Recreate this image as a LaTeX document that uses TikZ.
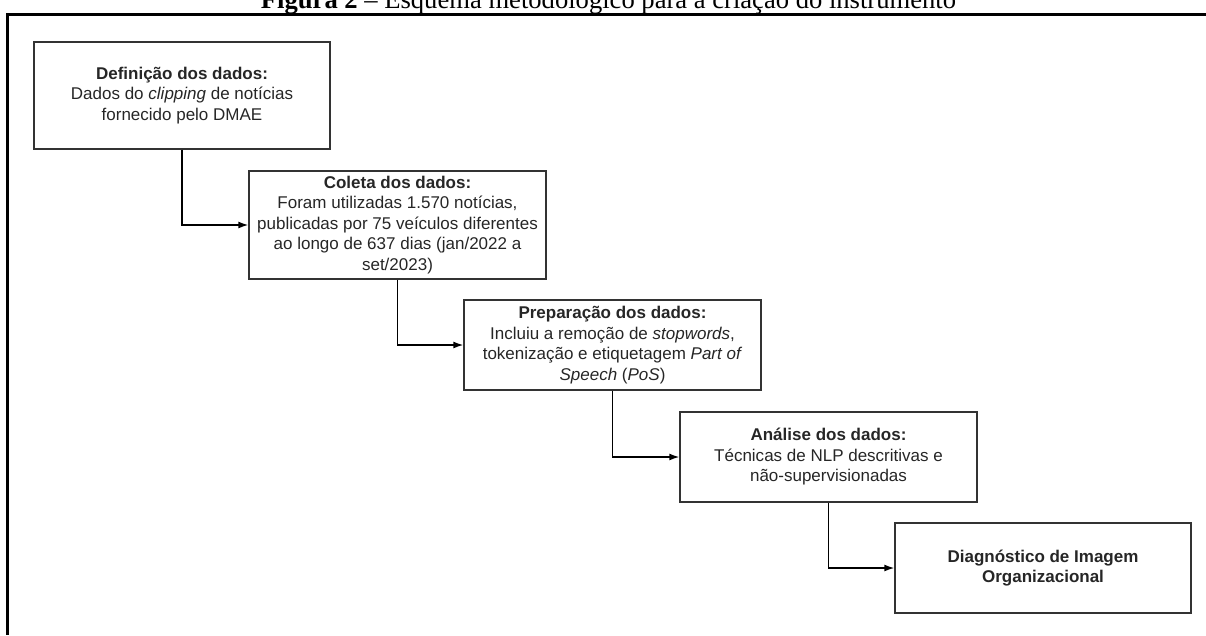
\documentclass[tikz,border=0pt]{standalone}
\usepackage{fontspec}
\setmainfont{Liberation Sans}
\newfontfamily\titleserif{Liberation Serif}
\usetikzlibrary{arrows.meta}
\begin{document}
\begin{tikzpicture}[x=1pt,y=-1pt,
  stepbox/.style={draw=black!80, line width=1.4pt, inner sep=0pt, align=center,
    text=black!85, font=\fontsize{17}{20.5}\selectfont},
  conn/.style={draw=black, line width=1.4pt, -{Latex[length=10pt,width=7pt]}},
  frameline/.style={draw=black, line width=3pt}]
\useasboundingbox (0,0) rectangle (1206,635);
% outer frame (top and left sides visible)
\coordinate (frA) at (1206,14);
\coordinate (frB) at (7,14);
\coordinate (frC) at (7,635);
\draw[frameline] (frA) -- (frB) -- (frC);
% title (cropped at top)
\node[anchor=base, inner sep=0pt, font=\titleserif\fontsize{26.6}{30}\selectfont] (title) at (608.5,8.5)
  {\textbf{Figura 2} – Esquema metodológico para a criação do instrumento};
% boxes
\node[stepbox, minimum width=296pt, minimum height=107pt] (b1) at (182,95.5)
  {\textbf{Definição dos dados:}\\Dados do \textit{clipping} de notícias\\fornecido pelo DMAE};
\node[stepbox, minimum width=297pt, minimum height=108pt] (b2) at (397.5,225)
  {\textbf{Coleta dos dados:}\\Foram utilizadas 1.570 notícias,\\publicadas por 75 veículos diferentes\\ao longo de 637 dias (jan/2022 a\\set/2023)};
\node[stepbox, minimum width=297pt, minimum height=90pt] (b3) at (612.5,345)
  {\textbf{Preparação dos dados:}\\Incluiu a remoção de \textit{stopwords},\\tokenização e etiquetagem \textit{Part of}\\\textit{Speech} (\textit{PoS})};
\node[stepbox, minimum width=297pt, minimum height=90pt] (b4) at (828.5,457)
  {\textbf{Análise dos dados:}\\Técnicas de NLP descritivas e\\não-supervisionadas};
\node[stepbox, minimum width=296pt, minimum height=90pt] (b5) at (1043,568)
  {\textbf{Diagnóstico de Imagem}\\\textbf{Organizacional}};
% connectors
\draw[conn] (b1.south) |- (b2.west);
\draw[conn] (b2.south) |- (b3.west);
\draw[conn] (b3.south) |- (b4.west);
\draw[conn] (b4.south) |- (b5.west);
\end{tikzpicture}
\end{document}
